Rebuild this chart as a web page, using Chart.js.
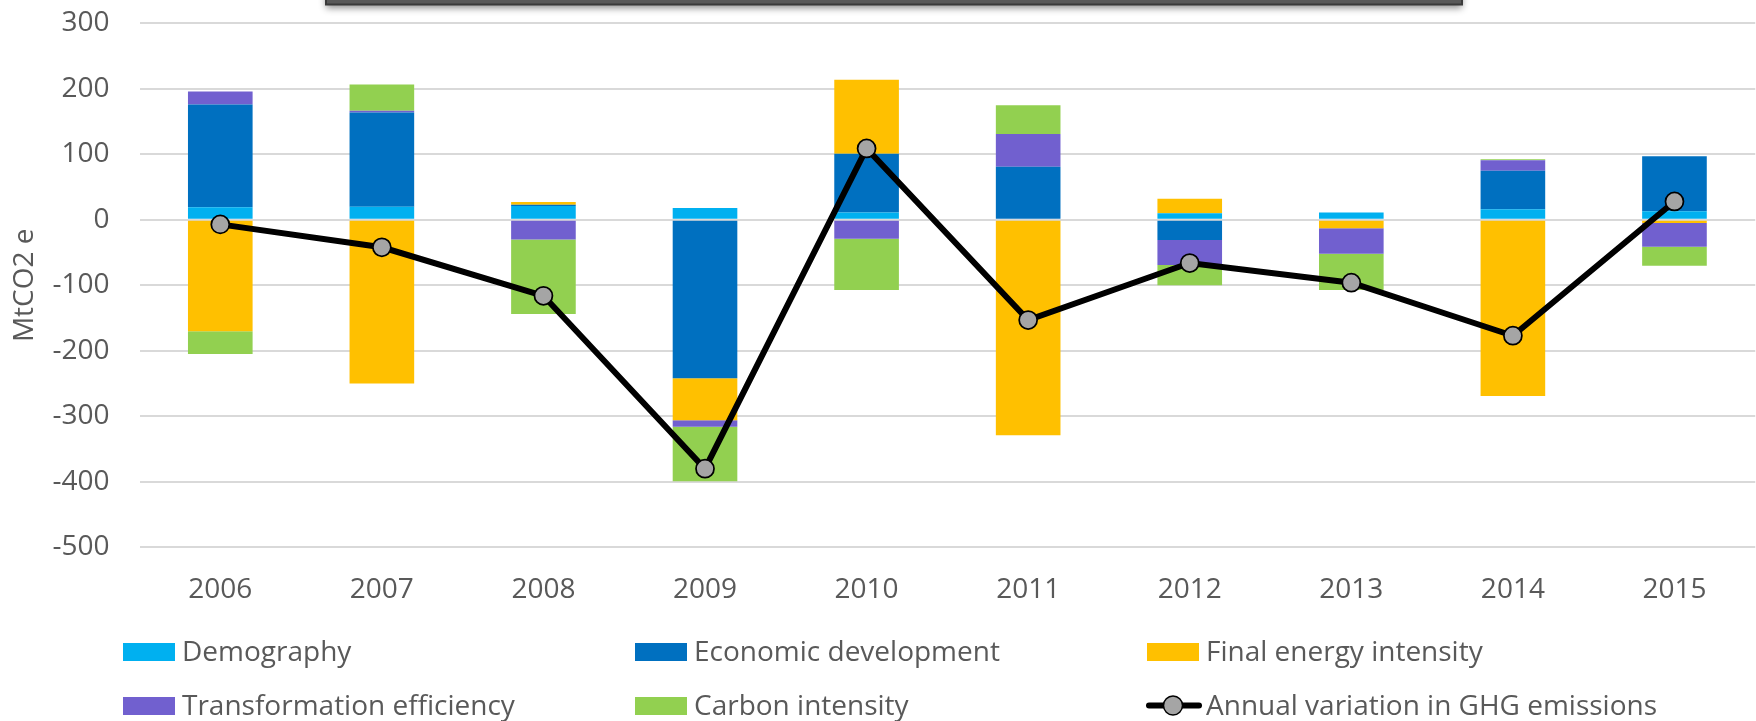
<!DOCTYPE html>
<html>
<head>
<meta charset="utf-8">
<title>GHG emissions decomposition</title>
<script src="https://cdn.jsdelivr.net/npm/chart.js@4"></script>
<style>
    html, body { margin: 0; padding: 0; background: #ffffff; overflow: hidden; }
    canvas { display: block; }
</style>
</head>
<body>
<canvas id="emissionsChart" width="1766" height="721"></canvas>
<script>
// values, MtCO2 e
const years = ['2006', '2007', '2008', '2009', '2010', '2011', '2012', '2013', '2014', '2015'];
const demography = [19, 20, 21, 18, 11, 0, 10, 11, 16, 13];
const economicDevelopment = [157, 144, 2, -242, 90, 81, -31, 0, 59, 84];
const finalEnergyIntensity = [-170, -250, 4, -64, 113, -329, 22, -13, -269, -5];
const transformationEfficiency = [20, 2.5, -30, -10, -29, 50, -38, -39, 16, -36];
const carbonIntensity = [-35, 40, -114, -83, -78, 44, -31, -55, 1.5, -29];
const annualVariation = [-7, -42, -116, -380, 109, -153, -66, -96, -177, 28];

const yTicks = { min: -500, max: 300, step: 100 };

const textColor = '#595959';
Chart.defaults.font.family = "'Open Sans', sans-serif";
Chart.defaults.font.size = 28;
Chart.defaults.color = textColor;

let bar = (label, data, color) => ({
    type: 'bar',
    label: label,
    data: data,
    backgroundColor: color,
    borderWidth: 0,
    stack: 'parts',
    order: 1,
    categoryPercentage: 1,
    barPercentage: 0.4
});

// dark box at the very top (bottom edge of a cropped title box)
const titleBox = {
    id: 'titleBox',
    afterDraw(chart) {
        let ctx = chart.ctx;
        ctx.save();
        ctx.shadowColor = 'rgba(0,0,0,0.45)';
        ctx.shadowBlur = 7;
        ctx.shadowOffsetY = 3;
        ctx.fillStyle = '#595959';
        ctx.fillRect(326, -30, 1136, 34.5);
        ctx.shadowColor = 'transparent';
        ctx.strokeStyle = '#3a3a3a';
        ctx.lineWidth = 2;
        ctx.strokeRect(326, -30, 1136, 34.5);
        ctx.restore();
    }
};

// legend in a 3 column grid, like the Excel one
const gridLegend = {
    id: 'gridLegend',
    afterDraw(chart) {
        let ctx = chart.ctx;
        let cols = [123, 635, 1147];
        let rows = [661, 715];
        ctx.save();
        ctx.font = "28px 'Open Sans', sans-serif";
        ctx.textBaseline = 'alphabetic';
        ctx.fillStyle = textColor;
        chart.data.datasets.forEach((ds, i) => {
            let x = cols[i % 3];
            let base = rows[Math.floor(i / 3)];
            let mid = base - 9.5;
            if (ds.type === 'line') {
                ctx.strokeStyle = ds.borderColor;
                ctx.lineWidth = 6;
                ctx.lineCap = 'round';
                ctx.beginPath();
                ctx.moveTo(x + 2, mid);
                ctx.lineTo(x + 52, mid);
                ctx.stroke();
                ctx.beginPath();
                ctx.arc(x + 26, mid, 9.5, 0, Math.PI * 2);
                ctx.fillStyle = ds.pointBackgroundColor;
                ctx.fill();
                ctx.lineWidth = 1.5;
                ctx.strokeStyle = ds.pointBorderColor;
                ctx.stroke();
            } else {
                ctx.fillStyle = ds.backgroundColor;
                ctx.fillRect(x, base - 18, 52, 18);
            }
            ctx.fillStyle = textColor;
            ctx.fillText(ds.label, x + 59, base);
        });
        ctx.restore();
    }
};

let canvas = document.getElementById('emissionsChart').getContext('2d');
new Chart(canvas, {
    data: {
        labels: years,
        datasets: [
            bar('Demography', demography, '#00B0F0'),
            bar('Economic development', economicDevelopment, '#0070C0'),
            bar('Final energy intensity', finalEnergyIntensity, '#FFC000'),
            bar('Transformation efficiency', transformationEfficiency, '#7160CF'),
            bar('Carbon intensity', carbonIntensity, '#92D050'),
            {
                type: 'line',
                label: 'Annual variation in GHG emissions',
                data: annualVariation,
                borderColor: '#000000',
                borderWidth: 6,
                pointRadius: 9,
                pointBorderWidth: 1.75,
                pointBackgroundColor: '#A5A5A5',
                pointBorderColor: '#000000',
                tension: 0,
                stack: 'total',
                order: 0
            }
        ]
    },
    options: {
        responsive: false,
        animation: false,
        layout: { padding: { top: 23.3, left: 0, right: 0, bottom: 0 } },
        plugins: {
            legend: { display: false },
            tooltip: { enabled: false }
        },
        scales: {
            x: {
                stacked: true,
                grid: { display: false, drawTicks: false },
                border: { display: false },
                ticks: { padding: 26, color: textColor },
                afterFit: scale => { scale.height = 173.7; }
            },
            y: {
                stacked: true,
                min: yTicks.min,
                max: yTicks.max,
                // tick padding is also added above the plot, so the gap comes from a hidden tick mark instead
                ticks: { stepSize: yTicks.step, padding: 0, color: textColor },
                grid: { color: '#D9D9D9', lineWidth: 2, drawTicks: true, tickLength: 30, tickColor: 'rgba(0,0,0,0)' },
                border: { display: false },
                title: {
                    display: true,
                    text: 'MtCO2 e',
                    color: textColor,
                    padding: { top: 8, bottom: 0 }
                },
                afterFit: scale => { scale.width = 139.5; }
            }
        }
    },
    plugins: [titleBox, gridLegend]
});
</script>
</body>
</html>
